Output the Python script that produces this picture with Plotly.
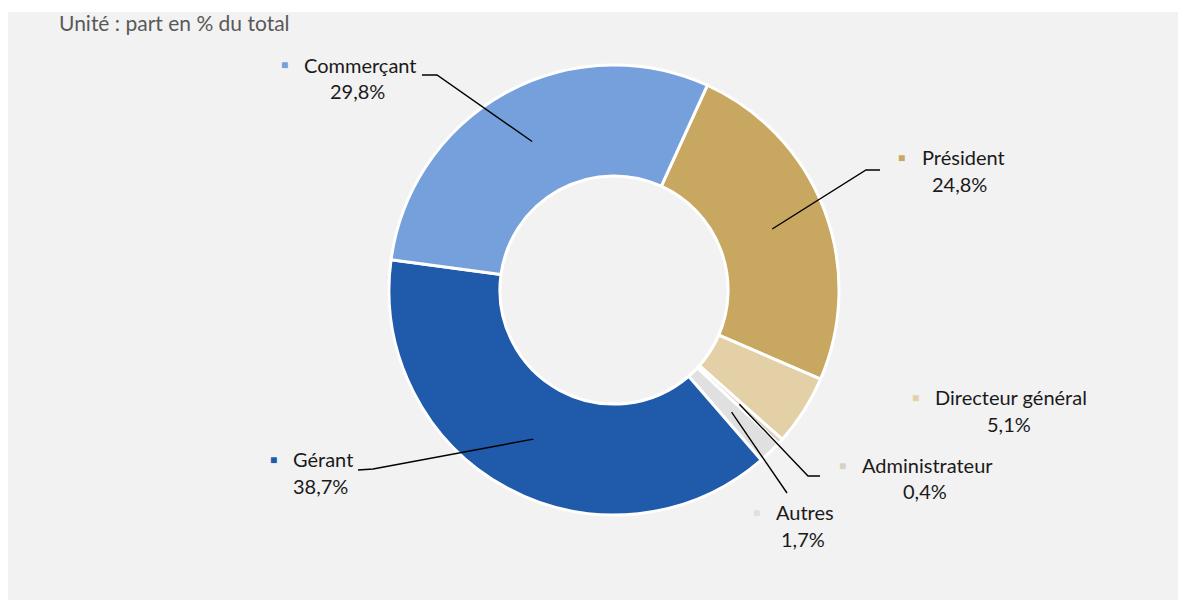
import math
import plotly.graph_objects as go

# ---- data ----
labels = ["Président", "Directeur général", "Administrateur", "Autres", "Gérant", "Commerçant"]
values = [24.8, 5.1, 0.4, 1.7, 38.7, 29.8]
pct_text = ["24,8%", "5,1%", "0,4%", "1,7%", "38,7%", "29,8%"]
colors = ["#c8a760", "#e3d0a7", "#d9d2c3", "#e0e0e0", "#1f5aab", "#75a0db"]
subtitle = "Unité : part en % du total"

# ---- layout constants (page pixels; the figure sits at page offset 8,8) ----
OFF = 8
FW, FH = 1178, 593
CX, CY, R_OUT = 614, 290, 225
HOLE = 0.507
ROTATION = 24.5
FONT = "Lato, Carlito, 'Open Sans', sans-serif"
FS = 20

def px(x):
    return (x - OFF) / FW

def py(y):
    return 1 - (y - OFF) / FH

# label layout: name_left, name_y, pct_cx, pct_y, leader elbow points (or None)
label_pos = {
    "Président": (920, 157, 959, 184, [(866, 170), (880, 170)]),
    "Directeur général": (933, 397, 1009, 424, None),
    "Administrateur": (860, 465, 925, 491, [(808, 476), (820, 476)]),
    "Autres": (774, 512, 803, 539, [(787, 493)]),
    "Gérant": (291, 459, 320, 486, [(373, 469), (358, 470)]),
    "Commerçant": (302, 65, 358, 91, [(437, 75), (422, 75)]),
}

fig = go.Figure()
fig.add_trace(go.Pie(
    labels=labels,
    values=values,
    hole=HOLE,
    sort=False,
    direction="clockwise",
    rotation=ROTATION,
    textinfo="none",
    marker=dict(colors=colors, line=dict(color="white", width=3)),
    domain=dict(x=[px(CX - R_OUT), px(CX + R_OUT)], y=[py(CY + R_OUT), py(CY - R_OUT)]),
    showlegend=False,
    hoverinfo="label+percent",
))

shapes = [dict(type="rect", xref="paper", yref="paper", x0=px(8), x1=px(1186), y0=py(600), y1=py(12),
               fillcolor="#f2f2f2", line=dict(width=0), layer="below")]
annotations = [dict(text=subtitle, x=px(57), y=1, xref="paper", yref="paper", xanchor="left",
                    yanchor="top", showarrow=False, font=dict(family=FONT, size=21, color="#595959"))]

total = sum(values)
r_mid = R_OUT * (1 + HOLE) / 2
cum = 0
for lab, v, pt, col in zip(labels, values, pct_text, colors):
    mid = math.radians(ROTATION + 360 * (cum + v / 2) / total)
    cum += v
    sx = CX + r_mid * math.sin(mid)
    sy = CY - r_mid * math.cos(mid)
    nl, ny, pcx, pcy, elbow = label_pos[lab]
    annotations.append(dict(text=lab, x=px(nl), y=py(ny), xref="paper", yref="paper", xanchor="left",
                            yanchor="middle", showarrow=False, font=dict(family=FONT, size=FS, color="#1a1a1a")))
    annotations.append(dict(text=pt, x=px(pcx), y=py(pcy), xref="paper", yref="paper", xanchor="center",
                            yanchor="middle", showarrow=False, font=dict(family=FONT, size=FS, color="#1a1a1a")))
    annotations.append(dict(text="■", x=px(nl - 18), y=py(ny), xref="paper", yref="paper", xanchor="center",
                            yanchor="middle", showarrow=False, font=dict(family=FONT, size=12, color=col)))
    if elbow:
        pts = [(sx, sy)] + elbow
        path = "M " + " L ".join(f"{px(a):.5f},{py(b):.5f}" for a, b in pts)
        shapes.append(dict(type="path", xref="paper", yref="paper", path=path,
                           line=dict(color="black", width=1.4)))

fig.update_layout(
    width=FW, height=FH,
    margin=dict(l=0, r=0, t=0, b=0),
    paper_bgcolor="white",
    shapes=shapes,
    annotations=annotations,
)
fig.write_html("out.html")
